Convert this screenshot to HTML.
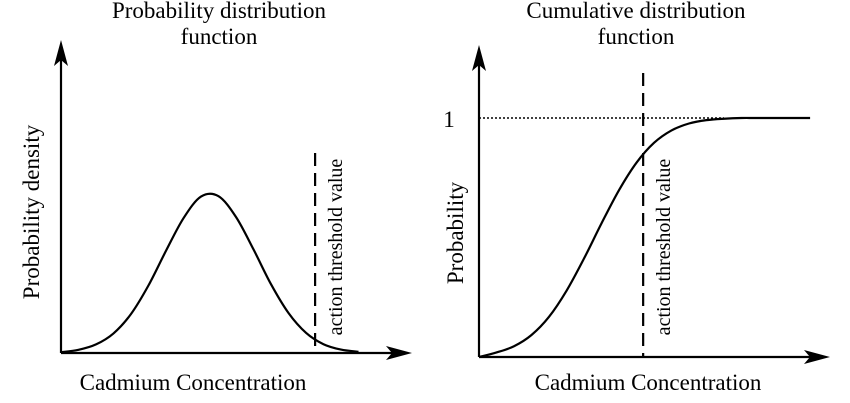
<!DOCTYPE html>
<html><head><meta charset="utf-8"><style>
html,body{margin:0;padding:0;background:#fff;}
svg{display:block;}
text{font-family:"Liberation Serif","Times New Roman",Times,"DejaVu Serif",serif;fill:#000;}
</style></head><body>
<svg id="chart" width="850" height="403" viewBox="0 0 850 403">
<g id="left">
<text x="219" y="18" font-size="23" text-anchor="middle">Probability distribution</text>
<text x="219" y="44" font-size="23" text-anchor="middle">function</text>
<line x1="61" y1="353" x2="61" y2="50" stroke="#000" stroke-width="2.2"/>
<polygon points="61,40 54,66 61,60 68,66" fill="#000"/>
<line x1="61" y1="353" x2="402" y2="353" stroke="#000" stroke-width="2.2"/>
<polygon points="412,353 386,346 392,353 386,360" fill="#000"/>
<text transform="translate(39,212) rotate(-90)" font-size="23" text-anchor="middle">Probability density</text>
<text x="193" y="390" font-size="23" text-anchor="middle">Cadmium Concentration</text>
<text transform="translate(342,247) rotate(-90)" font-size="20" text-anchor="middle">action threshold value</text>
</g>
<g id="right">
<text x="636" y="18" font-size="23" text-anchor="middle">Cumulative distribution</text>
<text x="636" y="44" font-size="23" text-anchor="middle">function</text>
<line x1="479" y1="357" x2="479" y2="55" stroke="#000" stroke-width="2.2"/>
<polygon points="479,45 472,71 479,65 486,71" fill="#000"/>
<line x1="479" y1="357" x2="820" y2="357" stroke="#000" stroke-width="2.2"/>
<polygon points="830,357 804,350 810,357 804,364" fill="#000"/>
<text x="449" y="127" font-size="23" text-anchor="middle">1</text>
<text transform="translate(463,233) rotate(-90)" font-size="23" text-anchor="middle">Probability</text>
<text x="648" y="390" font-size="23" text-anchor="middle">Cadmium Concentration</text>
<text transform="translate(670,247) rotate(-90)" font-size="20" text-anchor="middle">action threshold value</text>
</g>
</svg>
<script>
const pdfX = [0.0, 0.5, 1.0, 1.5, 2.0, 2.5, 3.0, 3.5, 4.0, 4.5, 5.0, 5.5, 6.0, 6.5, 7.0, 7.5, 8.0, 8.5];
const pdfY = [0.004, 0.016, 0.043, 0.098, 0.195, 0.338, 0.511, 0.674, 0.782, 0.784, 0.68, 0.518, 0.344, 0.2, 0.101, 0.044, 0.017, 0.006];
const pdfThreshold = [7.26];
const cdfX = [0, 0.5, 1.0, 1.5, 2.0, 2.5, 3.0, 3.5, 4.0, 4.5, 5.0, 5.5, 6.0, 6.5, 7.0, 7.5, 8.0, 9.46];
const cdfY = [0, 0.019, 0.045, 0.092, 0.168, 0.277, 0.412, 0.559, 0.698, 0.813, 0.896, 0.948, 0.977, 0.991, 0.997, 1, 1, 1];
const cdfThreshold = [4.69];
const cdfRefLevel = [1];

const lx = v => 61 + v * 35, ly = v => 353 - v * 200;
const rx = v => 479 + v * 35, ry = v => 357 - v * 239;
const NS = "http://www.w3.org/2000/svg";

function smooth(pts){
  let d = "M" + pts[0][0] + "," + pts[0][1];
  for (let i = 0; i < pts.length - 1; i++){
    const p0 = pts[Math.max(0,i-1)], p1 = pts[i], p2 = pts[i+1], p3 = pts[Math.min(pts.length-1,i+2)];
    const c1x = p1[0] + (p2[0]-p0[0])/6, c1y = p1[1] + (p2[1]-p0[1])/6;
    const c2x = p2[0] - (p3[0]-p1[0])/6, c2y = p2[1] - (p3[1]-p1[1])/6;
    d += " C" + c1x + "," + c1y + " " + c2x + "," + c2y + " " + p2[0] + "," + p2[1];
  }
  return d;
}
function mk(tag, attrs, parent){
  const el = document.createElementNS(NS, tag);
  for (const k in attrs) el.setAttribute(k, attrs[k]);
  document.getElementById(parent).appendChild(el);
  return el;
}

const pdfPath = mk("path", {d: smooth(pdfX.map((x,i)=>[lx(x), ly(pdfY[i])])), fill:"none", stroke:"#000", "stroke-width":2.2}, "left");



const pdfDash = mk("line", {x1: lx(pdfThreshold[0]), x2: lx(pdfThreshold[0]), y1: 153, y2: 353, stroke:"#000", "stroke-width":2.2, "stroke-dasharray":"13,7"}, "left");



const refLine = mk("line", {x1: 479, x2: rx(7.0), y1: ry(cdfRefLevel[0]), y2: ry(cdfRefLevel[0]), stroke:"#000", "stroke-width":1.5, "stroke-dasharray":"2,2"}, "right");



const cdfPath = mk("path", {d: smooth(cdfX.map((x,i)=>[rx(x), ry(cdfY[i])])), fill:"none", stroke:"#000", "stroke-width":2.2}, "right");



const cdfDash = mk("line", {x1: rx(cdfThreshold[0]), x2: rx(cdfThreshold[0]), y1: 73, y2: 357, stroke:"#000", "stroke-width":2.2, "stroke-dasharray":"13,7"}, "right");


</script>
</body></html>
